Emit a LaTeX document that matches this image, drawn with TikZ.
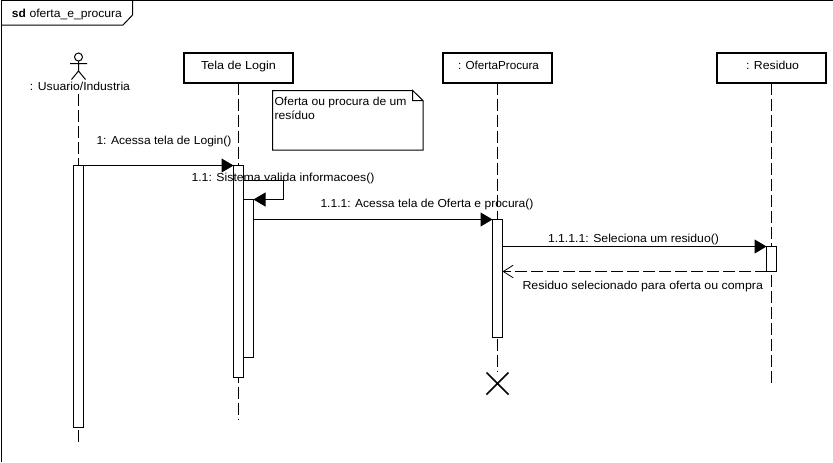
\documentclass[tikz,border=0pt]{standalone}
\usepackage{fontspec}
\usepackage{graphicx}
\setmainfont{Liberation Sans}
\usetikzlibrary{arrows.meta}
\newcommand{\fitw}[2]{\resizebox{\dimexpr#1pt*3/4\relax}{\height}{#2}}
\tikzset{
  x=0.75pt,y=-0.75pt,
  thinline/.style={line width=0.75pt,black},
  lbl/.style={anchor=base west,inner sep=0,outer sep=0,font=\fontsize{8.7pt}{10pt}\selectfont},
  headbox/.style={draw,line width=1.5pt,inner sep=0,outer sep=0,minimum width=82pt,minimum height=22.5pt,anchor=north west},
  act/.style={draw,fill=white,line width=0.75pt,inner sep=0,outer sep=0,minimum width=7.5pt,anchor=north west},
  lifeline/.style={thinline,dash pattern=on 9pt off 3pt},
  sync/.style={thinline,-{Triangle[length=9pt,width=10.5pt]}},
  reply/.style={thinline,dash pattern=on 9pt off 3pt,-{Straight Barb[length=7.5pt,width=9.5pt,line width=0.6pt]}},
}
\begin{document}
\begin{tikzpicture}
\useasboundingbox (0,0) rectangle (833,462);
% frame
\draw[thinline] (1.5,462) -- (1.5,0.5) -- (833,0.5);
\draw[thinline] (1.5,25) -- (123,25) -- (132.5,15) -- (132.5,0.5);
\node[lbl] (sd) at (12,17.5) {\fitw{14}{\textbf{sd}}};
\node[lbl] (nm) at (29.5,17.5) {\fitw{92.5}{oferta\_e\_procura}};
% actor
\draw[thinline] (78.5,57) circle[radius=4];
\draw[thinline] (78.5,61) -- (78.5,71) (70,63.5) -- (87,63.5) (71.5,79.5) -- (78.5,71) -- (85.5,79.5);
\node[lbl] (uLbl) at (30,90) {\fitw{100}{: Usuario/Industria}};
% heads
\node[headbox] (login) at (183.5,52.5) {};
\node[lbl] (loginLbl) at (201,69) {\fitw{75}{Tela de Login}};
\node[headbox] (oferta) at (442.5,52.5) {};
\node[lbl] (ofertaLbl) at (458,69) {\fitw{81}{: OfertaProcura}};
\node[headbox] (res) at (716.5,52.5) {};
\node[lbl] (resLbl) at (746,69) {\fitw{53}{: Residuo}};
% lifeline ends
\coordinate (uTop) at (78.5,94);
\coordinate (uEnd) at (78.5,443);
\coordinate (loginEnd) at (238.5,420);
\coordinate (ofertaEnd) at (497.5,372);
\coordinate (resEnd) at (771.5,384);
\draw[lifeline] (uTop) -- (uEnd);
\draw[lifeline] (login.south -| loginEnd) -- (loginEnd);
\draw[lifeline] (oferta.south -| ofertaEnd) -- (ofertaEnd);
\draw[lifeline] (res.south -| resEnd) -- (resEnd);
% activations
\node[act,minimum height=196.5pt] (aU) at (73.5,165.5) {};
\node[act,minimum height=159pt] (aL) at (233.5,165.5) {};
\node[act,minimum height=118.5pt] (aL2) at (243.5,199.5) {};
\node[act,minimum height=88.5pt] (aO) at (492.5,219.5) {};
\node[act,minimum height=18.75pt] (aR) at (766.5,246.5) {};
% note
\draw[thinline] (412.7,90.5) -- (272.5,90.5) -- (272.5,150) -- (423,150) -- (423,100.5) -- (412.7,90.5) -- (412.7,100.5) -- (423,100.5);
\node[lbl] (n1) at (274.5,105) {\fitw{132}{Oferta ou procura de um}};
\node[lbl] (n2) at (274.5,119) {\fitw{40.5}{resíduo}};
% messages
\draw[sync] (aU.north east) -- (aL.north west);
\coordinate (s1) at (243.5,180);
\coordinate (s2) at (283.5,180);
\coordinate (s3) at (283.5,199.5);
\draw[sync] (s1) -- (s2) -- (s3) -- (aL2.north east);
\draw[sync] (aL2.east |- aO.north) -- (aO.north west);
\draw[sync] (aO.east |- aR.north) -- (aR.north west);
\draw[reply] (aR.south west) -- (aO.east |- aR.south);
% message labels
\node[lbl] (m1) at (96.5,144) {\fitw{135}{1: Acessa tela de Login()}};
\node[lbl] (m2) at (191.5,181) {\fitw{183}{1.1: Sistema valida informacoes()}};
\node[lbl] (m3) at (320.5,207.5) {\fitw{213}{1.1.1: Acessa tela de Oferta e procura()}};
\node[lbl] (m4) at (548,242) {\fitw{171}{1.1.1.1: Seleciona um residuo()}};
\node[lbl] (m5) at (522.5,289.5) {\fitw{240.5}{Residuo selecionado para oferta ou compra}};
% destruction
\draw[line width=1.1pt] (486.5,372.5) -- (508.5,394.5) (508.5,372.5) -- (486.5,394.5);
\end{tikzpicture}
\end{document}
